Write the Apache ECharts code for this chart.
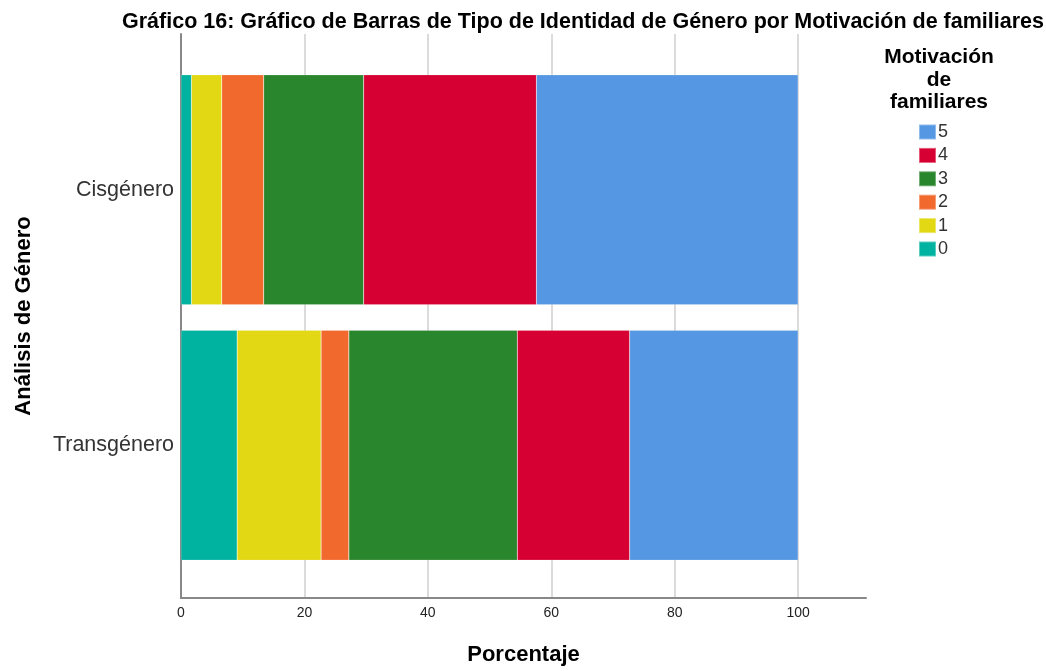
<!DOCTYPE html>
<html>
<head>
<meta charset="utf-8">
<script src="https://cdn.jsdelivr.net/npm/echarts@6/dist/echarts.min.js"></script>
<style>
  html, body { margin: 0; padding: 0; background: #fff; }
  #chart { width: 1046px; height: 671px; }
</style>
</head>
<body>
<div id="chart"></div>
<script>
var categories = ['Cisgénero', 'Transgénero'];
var levels = ['0', '1', '2', '3', '4', '5'];
// porcentaje por nivel de motivación (0..5), por categoría
var cisValues = [1.7, 4.9, 6.8, 16.2, 28.0, 42.4];
var transValues = [9.1, 13.6, 4.5, 27.3, 18.2, 27.3];
var xTicks = [0, 20, 40, 60, 80, 100];
var colors = ['#00b2a0', '#e2d813', '#f2692e', '#2a862c', '#d60032', '#5597e2'];

var chart = echarts.init(document.getElementById('chart'));

var series = [];
levels.forEach(function (lv, i) {
  series.push({
    name: lv,
    type: 'bar',
    stack: 'total',
    xAxisIndex: 1,
    yAxisIndex: 1,
    barCategoryGap: '10%',
    itemStyle: { color: colors[i], borderColor: 'rgba(255,255,255,0.35)', borderWidth: 0.5 },
    data: [cisValues[i], transValues[i]]
  });
});

var option = {
  animation: false,
  color: colors,
  title: [{
    text: 'Gráfico 16: Gráfico de Barras de Tipo de Identidad de Género por Motivación de familiares',
    left: 578,
    textAlign: 'center',
    top: 6,
    textStyle: { fontFamily: 'Liberation Sans', fontSize: 21.5, fontWeight: 'bold', color: '#000' }
  }, {
    text: 'Motivación\nde\nfamiliares',
    left: 934,
    textAlign: 'center',
    top: 41,
    textStyle: { fontFamily: 'Liberation Sans', fontSize: 21, fontWeight: 'bold', color: '#000', lineHeight: 22.5 }
  }],
  legend: {
    orient: 'vertical',
    left: 918,
    top: 123,
    padding: 0,
    itemWidth: 17,
    itemHeight: 15,
    itemGap: 5.4,
    icon: 'rect',
    data: levels.slice().reverse(),
    textStyle: { fontFamily: 'Liberation Sans', fontSize: 18, color: '#333', padding: [0, 0, 0, -3] }
  },
  grid: [
    { left: 181, right: 180, top: 34, bottom: 70 },
    { left: 181, right: 180, top: 62, bottom: 98 }
  ],
  xAxis: [{
    gridIndex: 0,
    type: 'value',
    min: 0,
    max: 111,
    interval: 20,
    name: 'Porcentaje',
    nameLocation: 'middle',
    nameGap: 46,
    nameTextStyle: { fontFamily: 'Liberation Sans', fontSize: 22, fontWeight: 'bold', color: '#000' },
    axisLine: { show: true, lineStyle: { color: '#888', width: 2 } },
    axisTick: { show: false },
    axisLabel: {
      margin: 8,
      fontFamily: 'Liberation Sans',
      fontSize: 14,
      color: '#222',
      formatter: function (v) { return xTicks.indexOf(v) >= 0 ? String(v) : ''; }
    },
    splitLine: { show: true, showMinLine: false, showMaxLine: false, lineStyle: { color: '#cfcfcf', width: 1.5 } }
  }, {
    gridIndex: 1,
    type: 'value',
    min: 0,
    max: 111,
    show: false
  }],
  yAxis: [{
    gridIndex: 0,
    type: 'value',
    min: 0,
    max: 1,
    name: 'Análisis de Género',
    nameLocation: 'middle',
    nameGap: 146,
    nameTextStyle: { fontFamily: 'Liberation Sans', fontSize: 22, fontWeight: 'bold', color: '#000' },
    axisLine: { show: true, lineStyle: { color: '#888', width: 2 } },
    axisTick: { show: false },
    axisLabel: { show: false },
    splitLine: { show: false }
  }, {
    gridIndex: 1,
    type: 'category',
    inverse: true,
    data: categories,
    axisLine: { show: false },
    axisTick: { show: false },
    axisLabel: { margin: 7, fontFamily: 'Liberation Sans', fontSize: 21.5, color: '#333', padding: [8, 0, 0, 0] }
  }],
  series: series
};

chart.setOption(option);
</script>
</body>
</html>
